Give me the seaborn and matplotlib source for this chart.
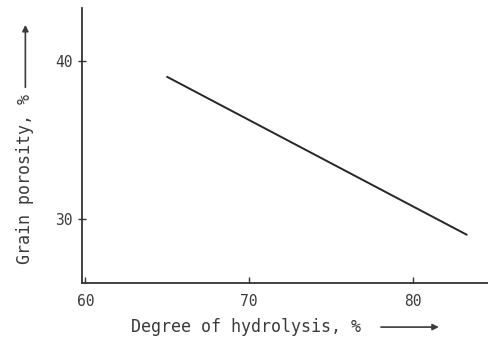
import matplotlib
matplotlib.use("Agg")
import matplotlib.pyplot as plt
import seaborn as sns
import pandas as pd

# Data
hydrolysis = [65.0, 83.3]
porosity = [39.0, 29.0]
x_ticks = [60, 70, 80]
y_ticks = [30, 40]

sns.set_theme(style="white")
plt.rcParams['font.family'] = ['DejaVu Sans Mono', 'DejaVu Sans']

df = pd.DataFrame({"hydrolysis": hydrolysis, "porosity": porosity})

fig = plt.figure(figsize=(4.88, 3.40), dpi=100)
ax = fig.add_axes([0.168, 0.168, 0.832, 0.808])

sns.lineplot(data=df, x="hydrolysis", y="porosity", ax=ax, color="#262626", linewidth=1.4)

ax.set_xlim(59.8, 84.6)
ax.set_ylim(25.95, 43.35)
ax.set_xticks(x_ticks)
ax.set_yticks(y_ticks)
ax.set_xticklabels([str(t) for t in x_ticks])
ax.set_yticklabels([str(t) for t in y_ticks])

for s in ["top", "right"]:
    ax.spines[s].set_visible(False)
for s in ["left", "bottom"]:
    ax.spines[s].set_color("#333333")
    ax.spines[s].set_linewidth(1.3)

ax.tick_params(axis="x", direction="in", length=4, width=1, colors="#333333",
               labelcolor="#3a3a3a", labelsize=10.5, pad=8, bottom=True)
ax.tick_params(axis="y", direction="inout", length=6, width=1, colors="#333333",
               labelcolor="#3a3a3a", labelsize=10.5, pad=4, left=True)

ax.set_xlabel("")
ax.set_ylabel("")

txtc = "#3a3a3a"
fig.text(0.268, 0.038, "Degree of hydrolysis, %", fontsize=12, color=txtc,
         ha="left", va="center")
ax.annotate("", xy=(0.905, 0.038), xytext=(0.775, 0.038),
            xycoords="figure fraction", textcoords="figure fraction",
            arrowprops=dict(arrowstyle="-|>", color=txtc, lw=1.2,
                            mutation_scale=9))

fig.text(0.052, 0.225, "Grain porosity, %", fontsize=12, color=txtc,
         ha="center", va="bottom", rotation=90)
ax.annotate("", xy=(0.052, 0.935), xytext=(0.052, 0.735),
            xycoords="figure fraction", textcoords="figure fraction",
            arrowprops=dict(arrowstyle="-|>", color=txtc, lw=1.2,
                            mutation_scale=9))

fig.savefig("out.png", dpi=100)
